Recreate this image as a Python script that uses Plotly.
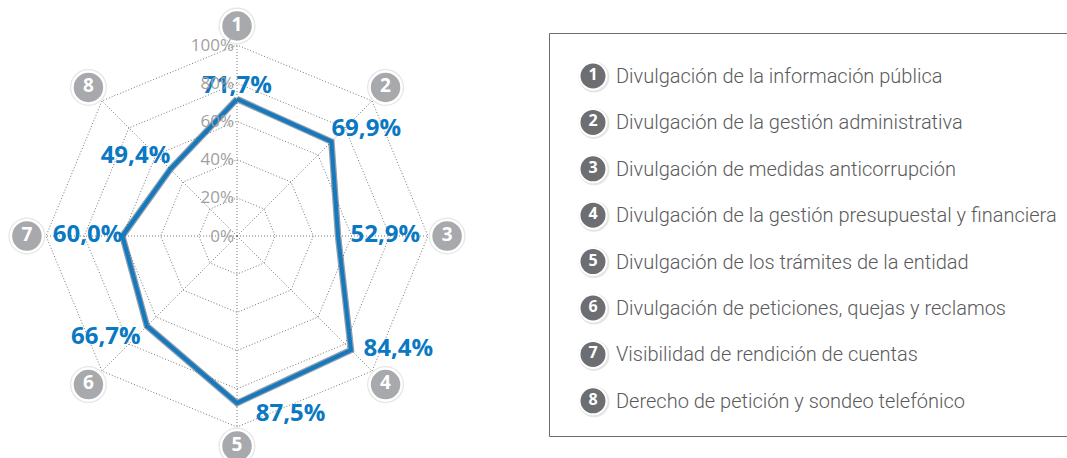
import plotly.graph_objects as go

categories = ["1", "2", "3", "4", "5", "6", "7", "8"]
values = [71.7, 69.9, 52.9, 84.4, 87.5, 66.7, 60.0, 49.4]
value_labels = ["71,7%", "69,9%", "52,9%", "84,4%", "87,5%", "66,7%", "60,0%", "49,4%"]
label_positions = ["top center", "top right", "middle right", "middle right",
                   "bottom right", "bottom left", "middle left", "top left"]
radial_ticks = [0, 20, 40, 60, 80, 100]
radial_ticktext = ["0%", "20%", "40%", "60%", "80%", "100%"]
legend_labels = [
    "Divulgación de la información pública",
    "Divulgación de la gestión administrativa",
    "Divulgación de medidas anticorrupción",
    "Divulgación de la gestión presupuestal y financiera",
    "Divulgación de los trámites de la entidad",
    "Divulgación de peticiones, quejas y reclamos",
    "Visibilidad de rendición de cuentas",
    "Derecho de petición y sondeo telefónico",
]

W, H = 1067, 458
BLUE = "#1679be"
GRID = "#767676"
DOT = "1px,2px"
R_MAX = 100
R_BADGE = 110
NB = "\u00a0"

# horizontal padding (in non-breaking spaces) to push labels away from the line
pad_before = [0, 0, 2, 2, 3, 0, 0, 0]
pad_after = [0, 0, 0, 0, 0, 1, 0, 0]
label_text = [NB * a + t + NB * b for t, a, b in zip(value_labels, pad_before, pad_after)]

fig = go.Figure()

# dotted spokes from the centre to the 100 % ring
spoke_r, spoke_t = [], []
for c in categories:
    spoke_r += [0, R_MAX, None]
    spoke_t += [c, c, None]
fig.add_trace(go.Scatterpolar(
    r=spoke_r, theta=spoke_t, mode="lines",
    line=dict(color=GRID, width=1, dash=DOT),
    hoverinfo="skip", showlegend=False, connectgaps=False,
))
# shadow of the series line
fig.add_trace(go.Scatterpolar(
    r=values + values[:1], theta=categories + categories[:1],
    mode="lines", line=dict(color="rgba(10,40,70,0.45)", width=6.5),
    hoverinfo="skip", showlegend=False,
))
# data line with labels
fig.add_trace(go.Scatterpolar(
    r=values + values[:1], theta=categories + categories[:1],
    mode="lines+text", line=dict(color=BLUE, width=4),
    text=label_text + [""], textposition=label_positions + ["top center"],
    textfont=dict(family="Open Sans", size=24, color="#0a78c2", weight="bold"),
    cliponaxis=False, showlegend=False,
))
# numbered circles around the chart (shadow + circle)
badge_r = [R_BADGE] * len(categories)
fig.add_trace(go.Scatterpolar(
    r=badge_r, theta=categories, mode="markers",
    marker=dict(size=37, color="rgba(0,0,0,0.10)"),
    cliponaxis=False, hoverinfo="skip", showlegend=False,
))
fig.add_trace(go.Scatterpolar(
    r=badge_r, theta=categories, mode="markers+text",
    marker=dict(size=32, color="#a7a9ac", line=dict(color="white", width=2.5)),
    text=categories, textposition="middle center",
    textfont=dict(family="Open Sans", size=19, color="white", weight="bold"),
    cliponaxis=False, showlegend=False,
))

cx, cy, R = 237, 236, 191 * R_BADGE / R_MAX
fig.update_layout(
    width=W, height=H,
    margin=dict(l=0, r=0, t=0, b=0),
    paper_bgcolor="white", plot_bgcolor="white",
    polar=dict(
        domain=dict(x=[(cx - R) / W, (cx + R) / W],
                    y=[(H - cy - R) / H, (H - cy + R) / H]),
        bgcolor="rgba(0,0,0,0)",
        gridshape="linear",
        radialaxis=dict(
            range=[0, R_BADGE], tickvals=radial_ticks, ticktext=radial_ticktext,
            angle=90, tickangle=90, side="counterclockwise",
            showline=False, ticks="", gridcolor=GRID, griddash=DOT, gridwidth=1,
            tickfont=dict(family="Open Sans", size=17, color="#a0a0a0"),
        ),
        angularaxis=dict(
            direction="clockwise", rotation=90,
            showline=False, showticklabels=False, ticks="", showgrid=False,
        ),
    ),
    xaxis=dict(domain=[0, 1], range=[0, W], visible=False, fixedrange=True),
    yaxis=dict(domain=[0, 1], range=[H, 0], visible=False, fixedrange=True),
)

# legend box
fig.add_shape(type="rect", xref="x", yref="y", x0=549.5, x1=W + 5, y0=33.5, y1=436.5,
              line=dict(color="#6b6b6b", width=1), layer="below")

# legend rows
row0, step = 76, 46.4
leg_y = [row0 + i * step for i in range(len(legend_labels))]
fig.add_trace(go.Scatter(
    x=[594] * len(legend_labels), y=[y + 1 for y in leg_y], mode="markers",
    marker=dict(size=31, color="rgba(0,0,0,0.10)"),
    hoverinfo="skip", showlegend=False, cliponaxis=False,
))
fig.add_trace(go.Scatter(
    x=[593] * len(legend_labels), y=leg_y, mode="markers+text",
    marker=dict(size=27, color="#6d6e71", line=dict(color="white", width=2)),
    text=categories, textposition="middle center",
    textfont=dict(family="Open Sans", size=16, color="white", weight="bold"),
    hoverinfo="skip", showlegend=False, cliponaxis=False,
))
for y, lab in zip(leg_y, legend_labels):
    fig.add_annotation(x=614, y=y, xref="x", yref="y", text=lab, showarrow=False,
                       xanchor="left", yanchor="middle",
                       font=dict(family="Roboto", size=20, color="#5a5a5c", weight=300))

fig.write_html("out.html", config={"displayModeBar": False},
               post_script="document.body.style.margin='0';document.body.style.padding='0';")
